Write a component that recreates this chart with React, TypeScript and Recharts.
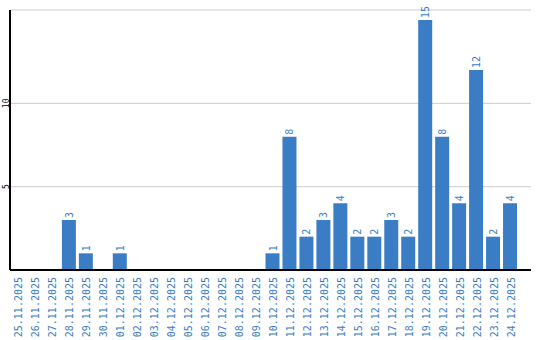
import React from "react";
import { BarChart, Bar, XAxis, YAxis, CartesianGrid, LabelList } from "recharts";

const dates = [
  "25.11.2025", "26.11.2025", "27.11.2025", "28.11.2025", "29.11.2025", "30.11.2025",
  "01.12.2025", "02.12.2025", "03.12.2025", "04.12.2025", "05.12.2025", "06.12.2025",
  "07.12.2025", "08.12.2025", "09.12.2025", "10.12.2025", "11.12.2025", "12.12.2025",
  "13.12.2025", "14.12.2025", "15.12.2025", "16.12.2025", "17.12.2025", "18.12.2025",
  "19.12.2025", "20.12.2025", "21.12.2025", "22.12.2025", "23.12.2025", "24.12.2025",
];
const counts = [0, 0, 0, 3, 1, 0, 1, 0, 0, 0, 0, 0, 0, 0, 0, 1, 8, 2, 3, 4, 2, 2, 3, 2, 15, 8, 4, 12, 2, 4];
const yTicks = [5, 10];

const data = dates.map((d, i) => ({ date: d, value: counts[i] }));

const BLUE = "#3b7dc4";
const FONT = "'DejaVu Sans Mono', monospace";

const XTick = (props: any) => {
  const { x, y, payload } = props;
  return (
    <text
      transform={`translate(${x + 4},${y - 1}) rotate(-90)`}
      textAnchor="end"
      fontSize={10}
      fontFamily={FONT}
      fill={BLUE}
    >
      {payload.value}
    </text>
  );
};

const YTick = (props: any) => {
  const { y, payload } = props;
  return (
    <text
      transform={`translate(8.5,${y}) rotate(-90)`}
      textAnchor="middle"
      fontSize={8}
      fontFamily={FONT}
      fill="#000"
    >
      {payload.value}
    </text>
  );
};

const ValueLabel = (props: any) => {
  const { x, y, width, value } = props;
  if (!value) return null;
  return (
    <text
      transform={`translate(${x + width / 2 + 4},${y - 2}) rotate(-90)`}
      textAnchor="start"
      fontSize={10}
      fontFamily={FONT}
      fill={BLUE}
    >
      {value}
    </text>
  );
};

export default function App() {
  return (
    <div style={{ position: "absolute", left: 0, top: 0, background: "#fff" }}>
      <BarChart
        width={540}
        height={340}
        data={data}
        margin={{ top: 10, right: 9, bottom: 0, left: 0 }}
        barSize={14}
      >
        <CartesianGrid vertical={false} stroke="#cccccc" strokeWidth={1} />
        <XAxis
          dataKey="date"
          interval={0}
          height={70}
          padding={{ left: 0, right: 12 }}
          axisLine={{ stroke: "#000", strokeWidth: 2 }}
          tickLine={false}
          tick={<XTick />}
        />
        <YAxis
          width={10}
          domain={[0, 15.6]}
          ticks={yTicks}
          axisLine={{ stroke: "#000", strokeWidth: 2 }}
          tickLine={false}
          tick={<YTick />}
        />
        <Bar dataKey="value" fill={BLUE} isAnimationActive={false}>
          <LabelList dataKey="value" content={<ValueLabel />} />
        </Bar>
      </BarChart>
    </div>
  );
}
